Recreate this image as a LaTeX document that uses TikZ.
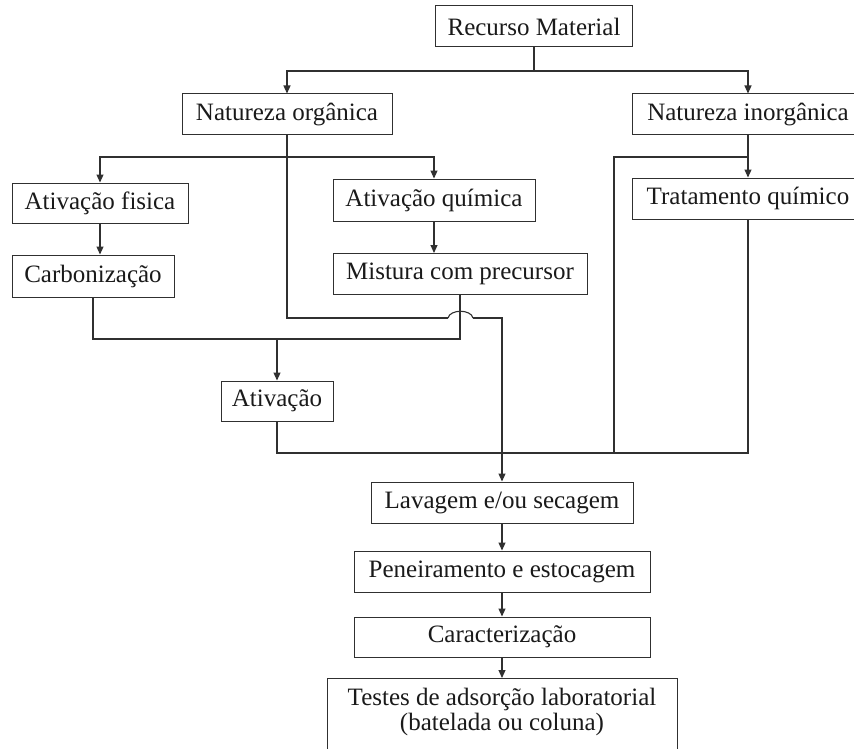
\documentclass[tikz,border=0pt]{standalone}
\usepackage{fontspec}
\setmainfont{Liberation Serif}
\usetikzlibrary{arrows.meta}
\definecolor{Ink}{HTML}{1A1A1A}
\definecolor{Edge}{HTML}{303030}
\tikzset{
  box/.style={draw=Edge,fill=white,line width=1pt,minimum height=41pt,inner sep=0pt,align=center,font=\fontsize{25}{24}\selectfont,text=Ink},
  link/.style={draw=Edge,line width=1.1pt},
  arr/.style={link,-{Triangle[length=8pt,width=7pt]}}
}
\begin{document}
\begin{tikzpicture}[x=1pt,y=-1pt]
  \path[use as bounding box,fill=white] (0,0) rectangle (854,749);
  % boxes
  \node[box,minimum width=197pt] (rec) at (534,26.5) {Recurso Material};
  \node[box,minimum width=210pt] (norg) at (287,114.5) {Natureza orgânica};
  \node[box,minimum width=231pt] (ninorg) at (748,114.5) {Natureza inorgânica};
  \node[box,minimum width=176pt,minimum height=40pt] (afis) at (100,203) {Ativação fisica};
  \node[box,minimum width=202pt,minimum height=42pt] (aqui) at (434,200) {Ativação química};
  \node[box,minimum width=231pt] (trat) at (748,198.5) {Tratamento químico};
  \node[box,minimum width=162pt,minimum height=42pt] (carb) at (93,276) {Carbonização};
  \node[box,minimum width=254pt] (mist) at (460,274) {Mistura com precursor};
  \node[box,minimum width=112pt,minimum height=40pt] (ativ) at (277,401) {Ativação};
  \node[box,minimum width=262pt] (lav) at (502,502.5) {Lavagem e/ou secagem};
  \node[box,minimum width=296pt] (pen) at (502,571.5) {Peneiramento e estocagem};
  \node[box,minimum width=296pt,minimum height=40pt] (car) at (502,637) {Caracterização};
  \node[box,anchor=north,minimum width=350pt,text height=27pt,text depth=60pt] (test) at (502,678)
    {\begin{tabular}[t]{@{}c@{}}Testes de adsorção laboratorial\\(batelada ou coluna)\end{tabular}};
  % junctions
  \coordinate (top) at (534,71);
  \coordinate (orgsplit) at (287,157);
  \coordinate (inorgsplit) at (748,157);
  \coordinate (inorgend) at (614,453);
  \coordinate (hopin) at (448,318);
  \coordinate (hopout) at (473,318);
  \coordinate (carbjoin) at (277,339);
  \coordinate (botjoin) at (502,453);
  % connectors
  \draw[link] (rec.south) -- (top);
  \draw[arr] (top) -| (norg);
  \draw[arr] (top) -| (ninorg);
  \draw[arr] (orgsplit) -| (afis);
  \draw[arr] (orgsplit) -| (aqui);
  \draw[link] (norg.south) |- (hopin);
  \draw[link] (hopin) .. controls (450,309) and (471,309) .. (hopout);
  \draw[arr] (hopout) -| (lav);
  \draw[arr] (afis) -- (afis |- carb.north);
  \draw[arr] (aqui) -- (aqui |- mist.north);
  \draw[link] (carb) |- (carbjoin) -| (mist);
  \draw[arr] (carbjoin) -- (ativ);
  \draw[arr] (ninorg) -- (trat);
  \draw[link] (inorgsplit) -| (inorgend);
  \draw[link] (ativ) |- (botjoin) -| (trat);
  \draw[arr] (lav) -- (pen);
  \draw[arr] (pen) -- (car);
  \draw[arr] (car) -- (car |- test.north);
\end{tikzpicture}
\end{document}
